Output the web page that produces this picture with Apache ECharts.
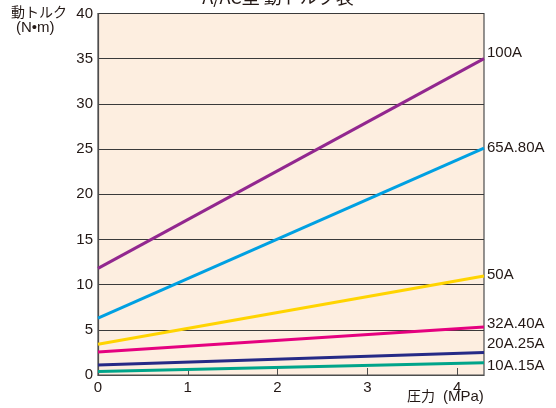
<!DOCTYPE html>
<html><head><meta charset="utf-8">
<script src="https://cdn.jsdelivr.net/npm/echarts@6/dist/echarts.min.js"></script>
<style>html,body{margin:0;padding:0;background:#fff}#c{width:556px;height:408px}</style>
</head><body><div id="c"></div>
<script>
var pressure = [0, 4.3];
var xTicks = [0, 1, 2, 3, 4];
var seriesNames = ['100A', '65A.80A', '50A', '32A.40A', '20A.25A', '10A.15A'];
var s100A = [11.8, 35.0];
var s65A80A = [6.3, 25.1];
var s50A = [3.4, 10.95];
var s32A40A = [2.55, 5.3];
var s20A25A = [1.1, 2.5];
var s10A15A = [0.4, 1.35];
var values = [s100A, s65A80A, s50A, s32A40A, s20A25A, s10A15A];
var colors = ['#92278f', '#00a0e2', '#ffd400', '#e5007f', '#262a86', '#00a48a'];
var labelDy = [-6, 0, -1, -3, -9, 3];

var font = '"Liberation Sans", Arial, "Noto Sans CJK JP", sans-serif';
var jfont = '"Noto Sans CJK JP", sans-serif';
var chart = echarts.init(document.getElementById('c'));
chart.setOption({
  animation: false,
  grid: {left: 98, right: 72, top: 13.5, bottom: 33, show: true,
         backgroundColor: '#fdeee0', borderColor: '#4d4d4d', borderWidth: 1.2},
  xAxis: {type: 'value', min: 0, max: 4.3,
    axisLine: {show: true, lineStyle: {color: '#4d4d4d', width: 1.2}},
    axisTick: {show: true, inside: true, length: 7, customValues: xTicks, lineStyle: {color: '#4d4d4d'}},
    axisLabel: {customValues: xTicks, color: '#231815', fontSize: 15, fontFamily: font, margin: 5},
    splitLine: {show: false}},
  yAxis: {type: 'value', min: 0, max: 40, interval: 5,
    axisLine: {show: true, lineStyle: {color: '#4d4d4d', width: 1.2}},
    axisTick: {show: false},
    axisLabel: {color: '#231815', fontSize: 15, fontFamily: font, margin: 5},
    splitLine: {show: true, lineStyle: {color: '#3a3a3a', width: 1}}},
  graphic: [
    {type: 'text', left: 11, top: 5, style: {text: '動トルク', fontSize: 14, fill: '#231815', fontFamily: jfont}},
    {type: 'text', left: 16, top: 20, style: {text: '(N•m)', fontSize: 15, fill: '#231815', fontFamily: font}},
    {type: 'text', left: 407, top: 389, style: {text: '圧力', fontSize: 14, fill: '#231815', fontFamily: jfont}},
    {type: 'text', left: 443, top: 389, style: {text: '(MPa)', fontSize: 15, fill: '#231815', fontFamily: font}},
    {type: 'text', left: 'center', top: -12, style: {text: 'A/AC型 動トルク表', fontSize: 18, fill: '#231815', fontFamily: jfont}}
  ],
  series: seriesNames.map(function (n, i) {
    return {
      name: n, type: 'line', showSymbol: false, symbol: 'none',
      data: pressure.map(function (p, j) { return [p, values[i][j]]; }),
      lineStyle: {color: colors[i], width: 3},
      endLabel: {show: true, formatter: n, color: '#231815', fontSize: 15,
                 fontFamily: font, distance: 3, offset: [0, labelDy[i]]}
    };
  })
});
</script></body></html>
